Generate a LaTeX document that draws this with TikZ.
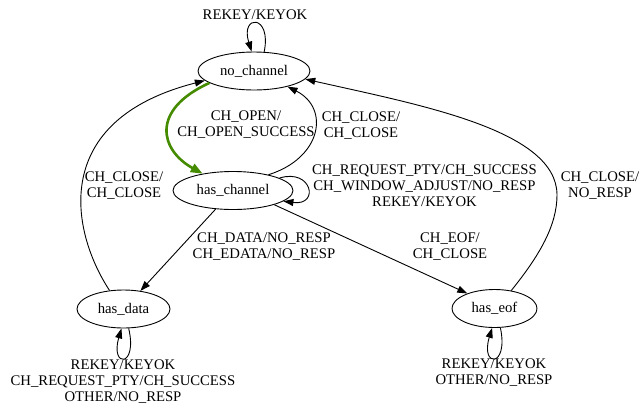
\documentclass[tikz,border=0pt]{standalone}
\usepackage{fontspec}
\setmainfont{Liberation Serif}
\usetikzlibrary{shapes.geometric,arrows.meta}
\definecolor{opengreen}{RGB}{69,139,0}
\tikzset{
  state/.style={draw, ellipse, line width=0.9pt, inner sep=0pt, minimum height=38pt},
  lbl/.style={align=center, inner sep=0pt, font=\fontsize{14.7}{16}\selectfont},
  edge/.style={draw, line width=0.9pt, -{Triangle[length=10pt,width=7pt]}},
  openedge/.style={draw=opengreen, line width=2.6pt,
                   -{Triangle[length=12pt,width=9pt,fill=opengreen]}}
}
\begin{document}
\begin{tikzpicture}[x=1pt,y=-1pt]
\useasboundingbox (0,0) rectangle (640,408);

% states
\node[state, minimum width=112pt, label={[lbl]center:no\_channel}] (nc) at (254,71) {};
\node[state, minimum width=120pt, label={[lbl]center:has\_channel}] (hc) at (233,190.5) {};
\node[state, minimum width=93pt, label={[lbl]center:has\_data}] (hd) at (123.5,309) {};
\node[state, minimum width=85pt, label={[lbl]center:has\_eof}] (he) at (494.5,308.5) {};

% transitions
\path[edge] (nc.62) .. controls (272,14) and (240,14) .. (nc.97);
\path[openedge] (nc.195) .. controls (150,110) and (160,150) .. (hc.151);
\path[edge] (hc.24) .. controls (322,158) and (330,108) .. (nc.-25);
\path[edge] (hc.15) .. controls (312,168) and (320,206) .. (hc.-12);
\path[edge] (hc.-133) -- (hd.47);
\path[edge] (hc.-19) -- (he.151);
\path[edge] (hd.127) .. controls (70,230) and (50,120) .. (nc.191);
\path[edge] (he.47) .. controls (540,255) and (557,225) .. (557,195)
                     .. controls (557,130) and (420,105) .. (nc.-9);
\path[edge] (hd.-75) .. controls (138,368) and (110,368) .. (hd.-96);
\path[edge] (he.-73) .. controls (509,368) and (480,368) .. (he.-97);

% transition labels
\node[lbl] (l1) at (255,15) {REKEY/KEYOK};
\node[lbl] (l2) at (246,125) {CH\_OPEN/\\CH\_OPEN\_SUCCESS};
\node[lbl] (l3) at (361,126) {CH\_CLOSE/\\CH\_CLOSE};
\node[lbl] (l4) at (424.5,186) {CH\_REQUEST\_PTY/CH\_SUCCESS\\CH\_WINDOW\_ADJUST/NO\_RESP\\REKEY/KEYOK};
\node[lbl] (l5) at (264,247) {CH\_DATA/NO\_RESP\\CH\_EDATA/NO\_RESP};
\node[lbl] (l6) at (450,247) {CH\_EOF/\\CH\_CLOSE};
\node[lbl] (l7) at (124,186) {CH\_CLOSE/\\CH\_CLOSE};
\node[lbl] (l8) at (600,186) {CH\_CLOSE/\\NO\_RESP};
\node[lbl] (l9) at (123,382) {REKEY/KEYOK\\CH\_REQUEST\_PTY/CH\_SUCCESS\\OTHER/NO\_RESP};
\node[lbl] (l10) at (494,373) {REKEY/KEYOK\\OTHER/NO\_RESP};
\end{tikzpicture}
\end{document}
